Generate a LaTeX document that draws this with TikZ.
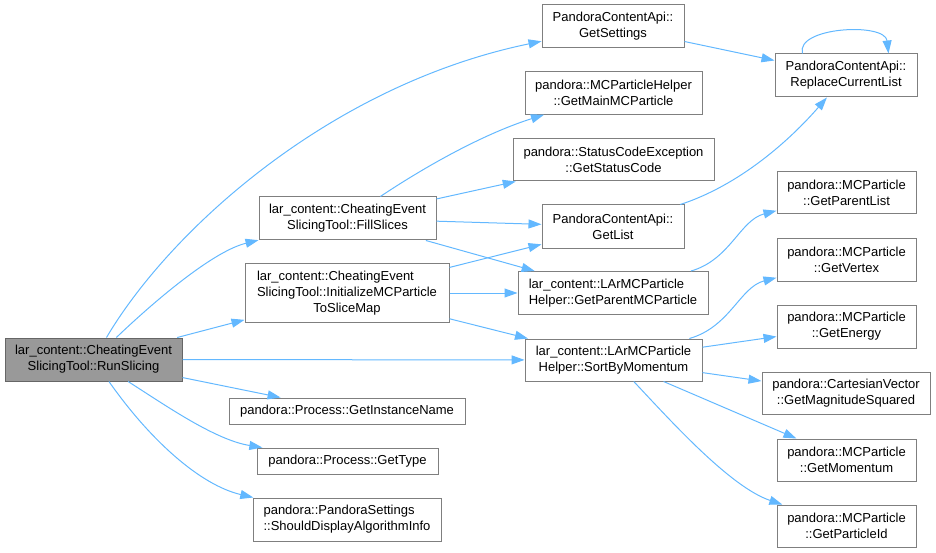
\documentclass[tikz,border=0pt]{standalone}
\usepackage{fontspec}
\setmainfont{Liberation Sans}
\usetikzlibrary{arrows.meta}
\definecolor{edgeblue}{HTML}{63B8FF}
\definecolor{boxline}{HTML}{7F7F7F}
\definecolor{rootfill}{HTML}{999999}
\definecolor{rootline}{HTML}{666666}
\begin{document}
\begin{tikzpicture}[x=1pt,y=-1pt,
  fn/.style={draw=boxline, fill=white, line width=1pt, inner sep=0pt, align=center,
    font=\fontsize{13}{16}\selectfont},
  rootfn/.style={fn, draw=rootline, fill=rootfill},
  edge/.style={draw=edgeblue, line width=1pt, -{Triangle[length=13pt,width=9pt]}}]
\useasboundingbox (0,0) rectangle (936,553);
% nodes
\node[rootfn, minimum width=177pt, minimum height=43pt] (root) at (93.5,359.5) {lar\_content::CheatingEvent\\SlicingTool::RunSlicing};
\node[fn, minimum width=177pt, minimum height=43pt] (fill) at (347.5,218.5) {lar\_content::CheatingEvent\\SlicingTool::FillSlices};
\node[fn, minimum width=204pt, minimum height=58.5pt] (init) at (347,293) {\begin{tabular}{@{}l@{}}lar\_content::CheatingEvent\\SlicingTool::InitializeMCParticle\\\multicolumn{1}{@{}c@{}}{ToSliceMap}\end{tabular}};
\node[fn, minimum width=236pt, minimum height=26pt] (inst) at (347,411) {pandora::Process::GetInstanceName};
\node[fn, minimum width=181pt, minimum height=26pt] (type) at (347.5,461) {pandora::Process::GetType};
\node[fn, align=left, minimum width=188pt, minimum height=43pt] (disp) at (347,519.5) {pandora::PandoraSettings\\::ShouldDisplayAlgorithmInfo};
\node[fn, minimum width=142pt, minimum height=43pt] (gset) at (613,26.5) {PandoraContentApi::\\GetSettings};
\node[fn, minimum width=177pt, minimum height=43pt] (main) at (613.5,92.75) {pandora::MCParticleHelper\\::GetMainMCParticle};
\node[fn, minimum width=201pt, minimum height=42pt] (stat) at (613.5,160) {pandora::StatusCodeException\\::GetStatusCode};
\node[fn, minimum width=142pt, minimum height=43pt] (glist) at (613,226.5) {PandoraContentApi::\\GetList};
\node[fn, align=left, minimum width=190pt, minimum height=43pt] (gpar) at (613,293) {lar\_content::LArMCParticle\\Helper::GetParentMCParticle};
\node[fn, minimum width=177pt, minimum height=42pt] (sort) at (613.5,360) {lar\_content::LArMCParticle\\Helper::SortByMomentum};
\node[fn, minimum width=142pt, minimum height=43pt] (repl) at (846,75.5) {PandoraContentApi::\\ReplaceCurrentList};
\node[fn, minimum width=139pt, minimum height=42pt] (plist) at (846.5,193) {pandora::MCParticle\\::GetParentList};
\node[fn, minimum width=139pt, minimum height=42pt] (vert) at (846.5,260) {pandora::MCParticle\\::GetVertex};
\node[fn, minimum width=139pt, minimum height=43pt] (ener) at (846.5,326.5) {pandora::MCParticle\\::GetEnergy};
\node[fn, minimum width=168pt, minimum height=42pt] (mag) at (846,393) {pandora::CartesianVector\\::GetMagnitudeSquared};
\node[fn, minimum width=139pt, minimum height=42pt] (mom) at (846.5,460) {pandora::MCParticle\\::GetMomentum};
\node[fn, minimum width=139pt, minimum height=42pt] (pid) at (846.5,526) {pandora::MCParticle\\::GetParticleId};
% edges from root
\draw[edge] (root) .. controls (170,230) and (330,85) .. (gset);
\draw[edge] (root) .. controls (145,310) and (210,252) .. (fill);
\draw[edge] (root) -- (init);
\draw[edge] (root) -- (sort);
\draw[edge] (root) -- (inst);
\draw[edge] (root) .. controls (165,405) and (215,440) .. (type);
\draw[edge] (root) .. controls (150,440) and (200,485) .. (disp);
% edges from FillSlices
\draw[edge] (fill) .. controls (420,170) and (480,135) .. (main);
\draw[edge] (fill) -- (stat);
\draw[edge] (fill) -- (glist);
\draw[edge] (fill) -- (gpar);
% edges from Initialize
\draw[edge] (init) -- (glist);
\draw[edge] (init) -- (gpar);
\draw[edge] (init) -- (sort);
% middle column
\draw[edge] (gset) -- (repl);
\draw[edge] (glist) .. controls (740,185) and (790,140) .. (repl);
\draw[edge] ([xshift=28pt]repl.north west) .. controls (795,27) and (885,22) .. ([xshift=-29pt]repl.north east);
\draw[edge] (gpar) .. controls (730,260) and (740,220) .. (plist);
% from SortByMomentum
\draw[edge] (sort) .. controls (730,327) and (740,287) .. (vert);
\draw[edge] (sort) -- (ener);
\draw[edge] (sort) -- (mag);
\draw[edge] (sort) -- (mom);
\draw[edge] (sort) .. controls (670,420) and (730,487) .. (pid);
\end{tikzpicture}
\end{document}
